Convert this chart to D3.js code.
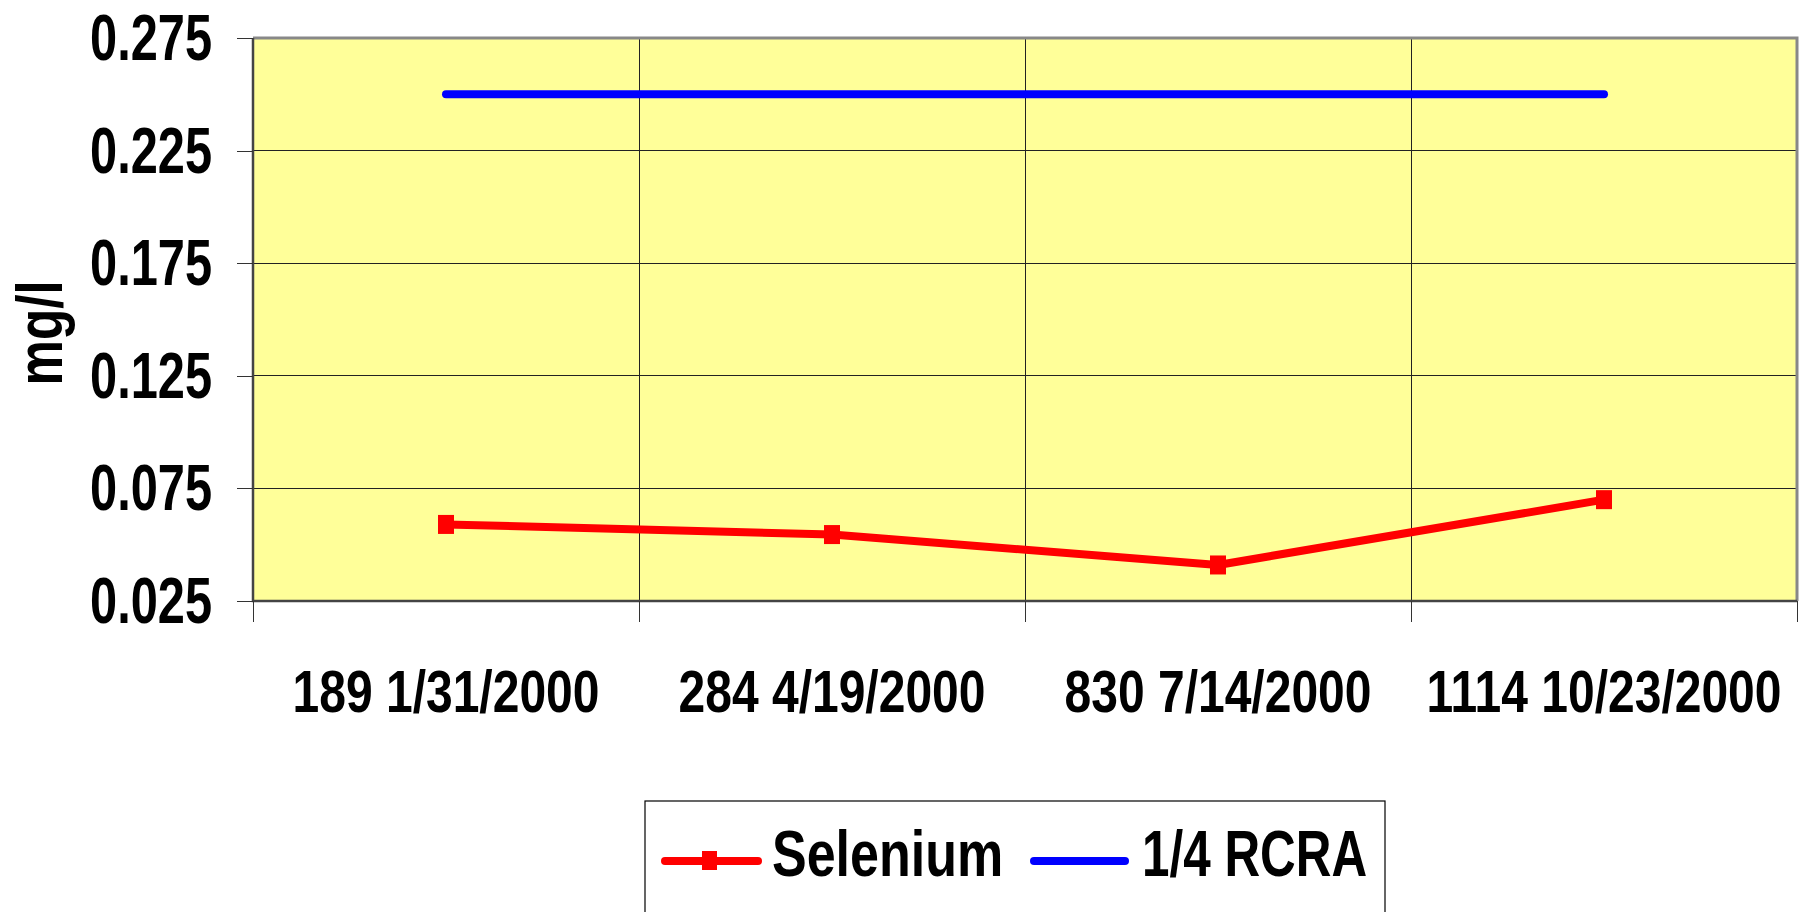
<!DOCTYPE html>
<html lang="en">
  <head>
    <meta charset="utf-8">
    <title>Selenium</title>
    <script src="https://d3js.org/d3.v7.min.js"></script>
    <style>
      body { margin: 0; background: #fff; }
      text {
        font-family: "Liberation Sans", Arial, sans-serif;
        font-weight: bold;
        fill: #000;
      }
      .axis path { display: none; }
      .axis line { stroke: #333; shape-rendering: crispEdges; }
    </style>
  </head>
  <body>
    <script>
      // data
      let categories = ["189 1/31/2000", "284 4/19/2000", "830 7/14/2000", "1114 10/23/2000"];
      let selenium = [0.059, 0.0545, 0.041, 0.070];
      let rcra = [0.25, 0.25, 0.25, 0.25];
      let yTicks = [0.025, 0.075, 0.125, 0.175, 0.225, 0.275];

      let w = 1805, h = 912;
      let plotLeft = 253, plotRight = 1797, plotTop = 38, plotBottom = 601;
      // no narrow font installed, so the bold sans is squeezed sideways
      let narrowTick = 0.75, narrowCat = 0.80, narrowLegend = 0.80;

      let svg = d3.select("body").append("svg")
        .attr("width", w)
        .attr("height", h);

      // scales
      let xScale = d3.scaleBand().domain(categories).range([plotLeft, plotRight]);
      let yScale = d3.scaleLinear().domain([0.025, 0.275]).range([plotBottom, plotTop]);
      let cx = d => xScale(d) + xScale.bandwidth() / 2;

      // plot area
      svg.append("rect")
        .attr("x", plotLeft).attr("y", plotTop)
        .attr("width", plotRight - plotLeft).attr("height", plotBottom - plotTop)
        .attr("fill", "#FFFF99");

      // horizontal grid
      svg.append("g")
        .selectAll("line")
        .data(yTicks)
        .enter().append("line")
        .attr("x1", plotLeft).attr("x2", plotRight)
        .attr("y1", d => yScale(d)).attr("y2", d => yScale(d))
        .attr("stroke", "#222")
        .attr("shape-rendering", "crispEdges");

      // vertical grid at category boundaries
      svg.append("g")
        .selectAll("line")
        .data(categories.slice(1))
        .enter().append("line")
        .attr("x1", d => xScale(d)).attr("x2", d => xScale(d))
        .attr("y1", plotTop).attr("y2", plotBottom)
        .attr("stroke", "#222")
        .attr("shape-rendering", "crispEdges");

      // frame: grey top/right, dark left/bottom
      svg.append("path")
        .attr("d", `M${plotLeft},${plotTop}H${plotRight}V${plotBottom}`)
        .attr("fill", "none").attr("stroke", "#888").attr("stroke-width", 3);
      svg.append("path")
        .attr("d", `M${plotLeft},${plotTop}V${plotBottom}H${plotRight}`)
        .attr("fill", "none").attr("stroke", "#444").attr("stroke-width", 2.5);

      // y axis
      let yAxis = d3.axisLeft(yScale)
        .tickValues(yTicks)
        .tickSize(16)
        .tickFormat(d3.format(".3f"));
      svg.append("g")
        .attr("class", "axis")
        .attr("transform", "translate(" + plotLeft + ",0)")
        .call(yAxis)
        .selectAll("text")
        .attr("font-size", 65)
        .attr("x", null)
        .attr("dy", "0.33em")
        .attr("transform", `translate(-41,0) scale(${narrowTick},1)`);

      // x axis: ticks at category boundaries
      let edges = categories.map(d => xScale(d)).concat([plotRight]);
      svg.append("g")
        .selectAll("line")
        .data(edges)
        .enter().append("line")
        .attr("x1", d => d).attr("x2", d => d)
        .attr("y1", plotBottom).attr("y2", plotBottom + 21)
        .attr("stroke", "#333")
        .attr("shape-rendering", "crispEdges");

      svg.append("g")
        .selectAll("text")
        .data(categories)
        .enter().append("text")
        .attr("text-anchor", "middle")
        .attr("font-size", 60)
        .attr("transform", d => `translate(${cx(d)},712) scale(${narrowCat},1)`)
        .text(d => d);

      // y title
      svg.append("text")
        .attr("text-anchor", "middle")
        .attr("font-size", 64)
        .attr("transform", `translate(62,333) rotate(-90) scale(${narrowLegend},1)`)
        .text("mg/l");

      // lines
      let line = d3.line()
        .x((d, i) => cx(categories[i]))
        .y(d => yScale(d));

      svg.append("path")
        .datum(rcra)
        .attr("d", line)
        .attr("fill", "none")
        .attr("stroke", "#0000FF")
        .attr("stroke-width", 8)
        .attr("stroke-linecap", "round");

      svg.append("path")
        .datum(selenium)
        .attr("d", line)
        .attr("fill", "none")
        .attr("stroke", "#FF0000")
        .attr("stroke-width", 8)
        .attr("stroke-linejoin", "round");

      svg.append("g")
        .selectAll("rect")
        .data(selenium)
        .enter().append("rect")
        .attr("x", (d, i) => cx(categories[i]) - 8)
        .attr("y", d => yScale(d) - 9.5)
        .attr("width", 16)
        .attr("height", 19)
        .attr("fill", "#FF0000");

      // legend
      let legend = svg.append("g");
      legend.append("rect")
        .attr("x", 645).attr("y", 801)
        .attr("width", 740).attr("height", 130)
        .attr("fill", "#fff")
        .attr("stroke", "#000")
        .attr("stroke-width", 1.2);

      legend.append("line")
        .attr("x1", 665).attr("x2", 758)
        .attr("y1", 861).attr("y2", 861)
        .attr("stroke", "#FF0000").attr("stroke-width", 8)
        .attr("stroke-linecap", "round");
      legend.append("rect")
        .attr("x", 702).attr("y", 851)
        .attr("width", 15).attr("height", 19)
        .attr("fill", "#FF0000");
      legend.append("text")
        .attr("font-size", 65)
        .attr("transform", `translate(772,876) scale(${narrowLegend},1)`)
        .text("Selenium");

      legend.append("line")
        .attr("x1", 1034).attr("x2", 1125)
        .attr("y1", 861).attr("y2", 861)
        .attr("stroke", "#0000FF").attr("stroke-width", 8)
        .attr("stroke-linecap", "round");
      legend.append("text")
        .attr("font-size", 65)
        .attr("transform", `translate(1142,876) scale(0.76,1)`)
        .text("1/4 RCRA");
    </script>
  </body>
</html>
